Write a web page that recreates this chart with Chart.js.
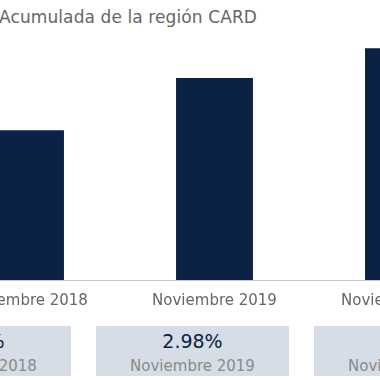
<!DOCTYPE html>
<html>
<head>
<meta charset="utf-8">
<script src="https://cdn.jsdelivr.net/npm/chart.js@4.4.1/dist/chart.umd.min.js"></script>
<style>
  html, body { margin: 0; padding: 0; background: #fff; }
  body { width: 380px; height: 380px; overflow: hidden; position: relative; font-family: "DejaVu Sans", sans-serif; }
  #titulo { position: absolute; left: -1px; top: 7px; font-size: 17px; color: #666; white-space: nowrap; letter-spacing: 0.1px; }
  #graf { position: absolute; left: -69px; top: 0; width: 567px; height: 322px; }
  #cajas { position: absolute; left: -122px; top: 326px; display: flex; gap: 25px; }
  .caja { width: 193px; height: 50px; background: #d6dde6; text-align: center; }
  .caja .v { font-size: 19px; color: #0b2145; line-height: 22px; padding-top: 4px; }
  .caja .l { font-size: 15px; color: #8a8a8a; line-height: 20px; padding-top: 4px; }
</style>
</head>
<body>
<div id="titulo">Acumulada de la región CARD</div>
<div id="graf"><canvas id="chartInflacion"></canvas></div>
<div id="cajas"></div>
<script>
// DATOS
const categorias = ['Noviembre 2018', 'Noviembre 2019', 'Noviembre 2020'];
const valores = [2.21, 2.98, 3.42];

// GRAFICO
const ctx = document.getElementById('chartInflacion').getContext('2d');
new Chart(ctx, {
    type: 'bar',
    data: {
        labels: categorias,
        datasets: [{
            data: valores,
            backgroundColor: '#0b2145',
            borderWidth: 0,
            barPercentage: 0.407,
            categoryPercentage: 1
        }]
    },
    options: {
        responsive: true,
        maintainAspectRatio: false,
        animation: false,
        layout: { padding: { top: 9, left: 0, right: 0, bottom: 0 } },
        plugins: { legend: { display: false }, tooltip: { enabled: false } },
        scales: {
            x: {
                grid: { display: false, drawTicks: false },
                border: { display: true, color: '#c8c8c8', width: 1 },
                ticks: { color: '#666', padding: 12, font: { family: 'DejaVu Sans', size: 15 } }
            },
            y: {
                display: false,
                min: 0,
                max: 4
            }
        }
    }
});

// CAJAS DE RESUMEN
const cajas = document.getElementById('cajas');
categorias.forEach((cat, i) => {
    const div = document.createElement('div');
    div.className = 'caja';
    div.innerHTML = '<div class="v">' + valores[i].toFixed(2) + '%</div><div class="l">' + cat + '</div>';
    cajas.appendChild(div);
});
</script>
</body>
</html>
